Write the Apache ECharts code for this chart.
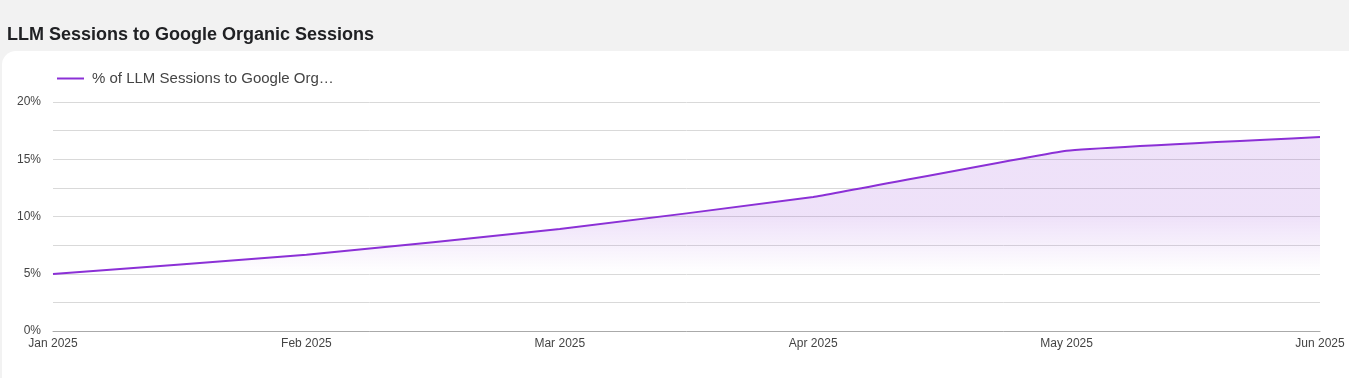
<!DOCTYPE html>
<html>
<head>
<meta charset="utf-8">
<script src="https://cdn.jsdelivr.net/npm/echarts@6/dist/echarts.min.js"></script>
<style>
  html, body {
    margin: 0;
    padding: 0;
    width: 1349px;
    height: 378px;
    background: #f2f2f2;
    overflow: hidden;
  }
  #card {
    position: absolute;
    left: 2px;
    top: 51px;
    width: 1380px;
    height: 360px;
    background: #fff;
    border-radius: 14px;
  }
  #myCharts {
    position: absolute;
    left: 0;
    top: 0;
    width: 1349px;
    height: 378px;
  }
</style>
</head>
<body>
<div id="card"></div>
<div id="myCharts"></div>
<script>
// chart data
var months = ["Jan 2025", "Feb 2025", "Mar 2025", "Apr 2025", "May 2025", "Jun 2025"];
var llmShare = [4.98, 6.65, 8.9, 11.7, 15.75, 16.95];
var seriesName = "% of LLM Sessions to Google Organic Sessions";

var myChart = echarts.init(document.getElementById("myCharts"));

var option = {
  backgroundColor: "transparent",
  title: {
    text: "LLM Sessions to Google Organic Sessions",
    left: 2,
    top: 21,
    textStyle: {
      color: "#202124",
      fontSize: 18,
      fontWeight: "bold",
      fontFamily: "Liberation Sans, Arial, sans-serif",
    },
  },
  legend: {
    left: 52,
    top: 66,
    icon: "rect",
    itemWidth: 27,
    itemHeight: 2,
    itemGap: 20,
    textStyle: {
      color: "#444",
      fontSize: 15,
      fontFamily: "Liberation Sans, Arial, sans-serif",
      padding: [0, 0, 0, 3],
      width: 248,
      overflow: "truncate",
      ellipsis: "…",
    },
    data: [seriesName],
  },
  grid: {
    left: 53,
    right: 29,
    top: 102,
    bottom: 47,
  },
  xAxis: {
    type: "category",
    boundaryGap: false,
    data: months,
    axisLine: {
      show: true,
      lineStyle: { color: "#aaa", width: 1 },
    },
    axisTick: { show: false },
    axisLabel: {
      color: "#444",
      fontSize: 12,
      margin: 7,
      fontFamily: "Liberation Sans, Arial, sans-serif",
    },
    splitLine: { show: false },
  },
  yAxis: {
    type: "value",
    min: 0,
    max: 20,
    interval: 2.5,
    axisLine: { show: false },
    axisTick: { show: false },
    axisLabel: {
      color: "#444",
      fontSize: 12,
      margin: 12,
      fontFamily: "Liberation Sans, Arial, sans-serif",
      formatter: function (value) {
        if (value % 5 !== 0) {
          return "";
        }
        return value + "%";
      },
    },
    splitLine: {
      lineStyle: { color: "#d9d9d9", width: 1 },
    },
  },
  series: [
    {
      name: seriesName,
      type: "line",
      data: llmShare,
      smooth: 0.08,
      symbol: "none",
      lineStyle: { color: "#8b30d6", width: 2 },
      itemStyle: { color: "#8b30d6" },
      areaStyle: {
        color: new echarts.graphic.LinearGradient(0, 0, 0, 1, [
          { offset: 0, color: "rgba(139, 48, 214, 0.2)" },
          { offset: 0.42, color: "rgba(139, 48, 214, 0.2)" },
          { offset: 0.7, color: "rgba(139, 48, 214, 0)" },
          { offset: 1, color: "rgba(139, 48, 214, 0)" },
        ]),
      },
    },
  ],
};

myChart.setOption(option);
</script>
</body>
</html>
